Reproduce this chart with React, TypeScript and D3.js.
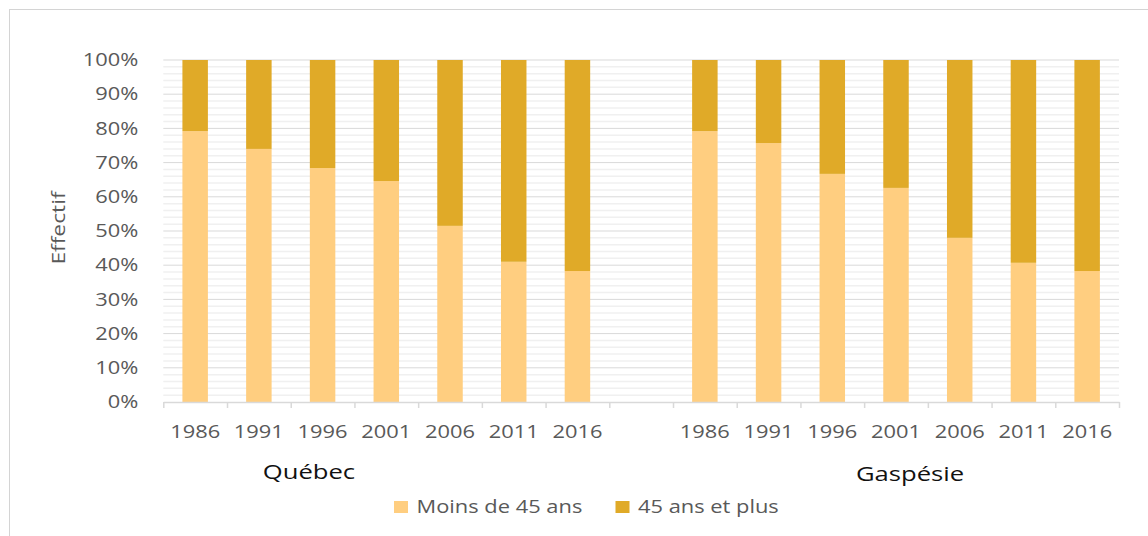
import { useEffect, useRef } from "react"
import * as d3 from "d3"

// Valeurs (%)
const years = ["1986", "1991", "1996", "2001", "2006", "2011", "2016"]
const quebecMoins = [79.2, 74.0, 68.4, 64.6, 51.5, 41.0, 38.3]
const quebecPlus = [20.8, 26.0, 31.6, 35.4, 48.5, 59.0, 61.7]
const gaspesieMoins = [79.2, 75.7, 66.7, 62.6, 48.0, 40.7, 38.3]
const gaspesiePlus = [20.8, 24.3, 33.3, 37.4, 52.0, 59.3, 61.7]
const seriesNames = ["Moins de 45 ans", "45 ans et plus"]
const seriesColors = ["#FFCE80", "#E0AA28"]
const regionNames = ["Québec", "Gaspésie"]
const yTicks = [0, 10, 20, 30, 40, 50, 60, 70, 80, 90, 100]

const W = 1148
const H = 536
const FONT = "'Open Sans', sans-serif"
const SX = 1.25 // étirement horizontal du texte

export default function App() {
  const svgRef = useRef<SVGSVGElement>(null)

  useEffect(() => {
    if (!svgRef.current) return
    const root = d3.select(svgRef.current)
    root.selectAll("*").remove()

    // cadre extérieur
    root
      .append("rect")
      .attr("x", 9.5)
      .attr("y", 9.5)
      .attr("width", W + 20)
      .attr("height", H + 20)
      .attr("fill", "none")
      .attr("stroke", "#d4d4d4")

    const margin = { top: 60, left: 163.3, right: W - 1119, bottom: H - 402 }
    const innerWidth = W - margin.left - margin.right
    const innerHeight = H - margin.top - margin.bottom

    const keys = [
      ...years.map((y) => "Q-" + y),
      "gap",
      ...years.map((y) => "G-" + y),
    ]

    const rows = [
      ...years.map((y, i) => ({ key: "Q-" + y, moins: quebecMoins[i], plus: quebecPlus[i] })),
      ...years.map((y, i) => ({ key: "G-" + y, moins: gaspesieMoins[i], plus: gaspesiePlus[i] })),
    ]

    const x = d3.scaleBand().domain(keys).range([0, innerWidth]).paddingInner(0.6).paddingOuter(0.3)
    const xEdges = d3.scaleLinear().domain([0, keys.length]).range([0, innerWidth])
    const y = d3.scaleLinear().domain([0, 100]).range([innerHeight, 0])

    const g = root.append("g").attr("transform", `translate(${margin.left},${margin.top})`)

    // grille mineure (2 %)
    const minor = d3.range(2, 100, 2).filter((v) => v % 10 !== 0)
    g.append("g")
      .selectAll("line")
      .data(minor)
      .enter()
      .append("line")
      .attr("x1", 0)
      .attr("x2", innerWidth)
      .attr("y1", (d) => y(d))
      .attr("y2", (d) => y(d))
      .attr("stroke", "#f0f0f0")
      .attr("stroke-width", 1.5)

    // grille majeure
    g.append("g")
      .selectAll("line")
      .data(yTicks.filter((v) => v > 0))
      .enter()
      .append("line")
      .attr("x1", 0)
      .attr("x2", innerWidth)
      .attr("y1", (d) => y(d))
      .attr("y2", (d) => y(d))
      .attr("stroke", "#d9d9d9")
      .attr("stroke-width", 1)

    // barres empilées
    const stack = d3.stack<any>().keys(["moins", "plus"])(rows)
    stack.forEach((layer, li) => {
      g.append("g")
        .attr("fill", seriesColors[li])
        .selectAll("rect")
        .data(layer)
        .enter()
        .append("rect")
        .attr("x", (d: any) => x(d.data.key) || 0)
        .attr("y", (d) => y(d[1]))
        .attr("width", x.bandwidth())
        .attr("height", (d) => y(d[0]) - y(d[1]))
    })

    // axe Y
    const yAxis = g.append("g").call(
      d3
        .axisLeft(y)
        .tickValues(yTicks)
        .tickSize(0)
        .tickFormat((d) => `${d}%`),
    )
    yAxis.select(".domain").remove()
    yAxis
      .selectAll("text")
      .attr("x", -25 / SX)
      .attr("transform", `scale(${SX},1)`)
      .attr("fill", "#595959")
      .style("font-family", FONT)
      .style("font-size", "17.5px")

    // axe X : traits aux limites des catégories
    const xTicks = g
      .append("g")
      .attr("transform", `translate(0,${innerHeight})`)
      .call(
        d3
          .axisBottom(xEdges)
          .tickValues(d3.range(0, keys.length + 1))
          .tickSize(6)
          .tickSizeOuter(0)
          .tickFormat(() => ""),
      )
    xTicks.selectAll("line").attr("stroke", "#d9d9d9").attr("stroke-width", 1.5)
    xTicks.select(".domain").attr("stroke", "#d9d9d9").attr("stroke-width", 1.5)

    // étiquettes des années
    const xLabels = g
      .append("g")
      .attr("transform", `translate(0,${innerHeight})`)
      .call(
        d3
          .axisBottom(x)
          .tickSize(0)
          .tickFormat((d) => (d === "gap" ? "" : String(d).slice(2))),
      )
    xLabels.select(".domain").remove()
    xLabels
      .selectAll("text")
      .attr("y", 36)
      .attr("dy", 0)
      .attr("transform", `scale(${SX},1)`)
      .attr("fill", "#595959")
      .style("font-family", FONT)
      .style("font-size", "17.5px")

    // noms des régions
    const regionX = [309, 910]
    const regionY = [479, 481.5]
    regionNames.forEach((name, i) => {
      root
        .append("text")
        .attr("x", regionX[i] / SX)
        .attr("y", regionY[i])
        .attr("transform", `scale(${SX},1)`)
        .attr("text-anchor", "middle")
        .attr("fill", "#111")
        .style("font-family", FONT)
        .style("font-size", "20.5px")
        .text(name)
    })

    // titre de l'axe Y
    root
      .append("text")
      .attr("transform", `translate(65,228) rotate(-90) scale(1.2,1)`)
      .attr("text-anchor", "middle")
      .attr("fill", "#595959")
      .style("font-family", FONT)
      .style("font-size", "19px")
      .text("Effectif")

    // légende
    const legendX = [394, 615.5]
    seriesNames.forEach((name, i) => {
      const lg = root.append("g").attr("transform", `translate(${legendX[i]},501)`)
      lg.append("rect").attr("width", 14).attr("height", 12).attr("fill", seriesColors[i])
      lg.append("text")
        .attr("x", 22.5 / SX)
        .attr("y", 12)
        .attr("transform", `scale(${SX},1)`)
        .attr("fill", "#595959")
        .style("font-family", FONT)
        .style("font-size", "17.5px")
        .text(name)
    })
  }, [])

  return (
    <svg
      ref={svgRef}
      width={W}
      height={H}
      style={{ position: "absolute", left: 0, top: 0, background: "#fff" }}
    />
  )
}
